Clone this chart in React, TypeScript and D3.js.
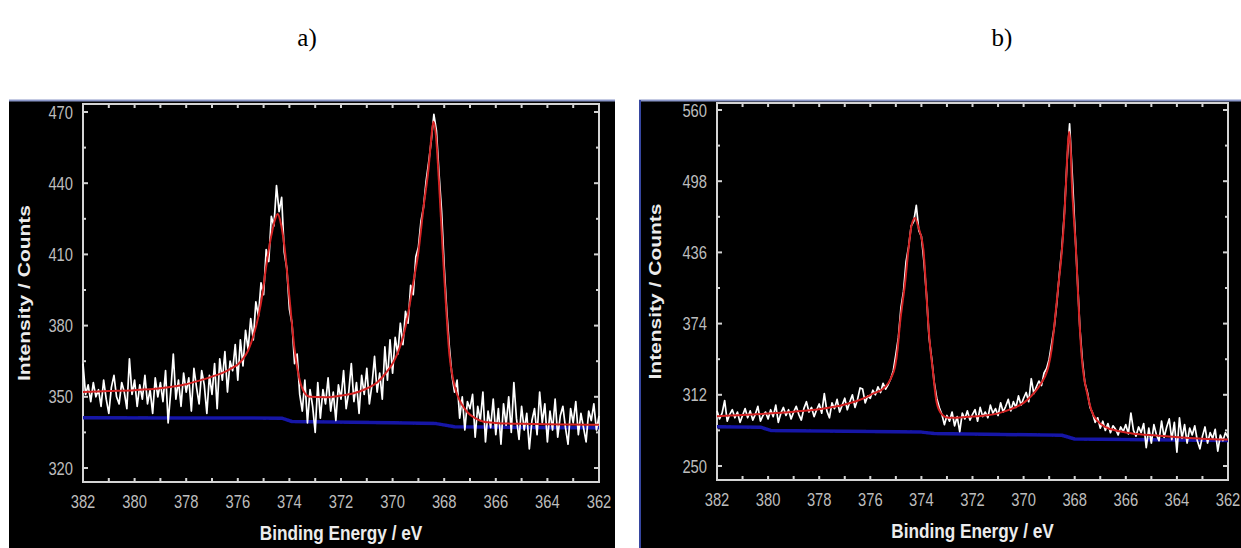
import React from "react";
import * as d3 from "d3";

// Spectra are sampled every 0.1 eV from 382.0 eV down to 362.0 eV.
const ENERGY_START = 382;
const ENERGY_STEP = 0.1;

// Panel a) measured counts
const countsA: number[] = [
  364, 351, 355, 348, 356, 350, 353, 346, 357, 349, // 382.0 – 381.1
  343, 354, 359, 350, 347, 356, 352, 345, 366, 351, // 381.0 – 380.1
  357, 346, 355, 349, 359, 347, 353, 343, 358, 350, // 380.0 – 379.1
  356, 348, 361, 339, 352, 368, 349, 357, 346, 360, // 379.0 – 378.1
  352, 358, 344, 362, 354, 347, 361, 355, 343, 359, // 378.0 – 377.1
  351, 364, 345, 366, 357, 369, 352, 365, 361, 372, // 377.0 – 376.1
  357, 374, 363, 378, 370, 383, 374, 390, 384, 398, // 376.0 – 375.1
  393, 412, 407, 426, 422, 439, 428, 434, 411, 404, // 375.0 – 374.1
  387, 381, 364, 368, 351, 344, 357, 339, 353, 346, // 374.0 – 373.1
  335, 356, 341, 353, 347, 358, 344, 352, 340, 355, // 373.0 – 372.1
  349, 361, 345, 352, 364, 348, 356, 343, 359, 351, // 372.0 – 371.1
  362, 347, 355, 367, 352, 360, 349, 371, 357, 374, // 371.0 – 370.1
  360, 375, 368, 381, 372, 386, 381, 397, 393, 409, // 370.0 – 369.1
  413, 424, 430, 441, 449, 458, 469, 462, 444, 428, // 369.0 – 368.1
  405, 386, 371, 359, 352, 357, 341, 350, 336, 348, // 368.0 – 367.1
  345, 351, 333, 346, 340, 352, 331, 344, 337, 349, // 367.0 – 366.1
  334, 345, 330, 347, 338, 350, 335, 356, 341, 332, // 366.0 – 365.1
  346, 336, 343, 328, 340, 345, 334, 352, 339, 347, // 365.0 – 364.1
  331, 344, 336, 349, 333, 342, 346, 337, 330, 345, // 364.0 – 363.1
  339, 348, 334, 343, 337, 331, 344, 340, 347, 336, // 363.0 – 362.1
  342, // 362.0
];

// Panel b) measured counts
const countsB: number[] = [
  298, 291, 296, 307, 289, 295, 299, 292, 297, 288, // 382.0 – 381.1
  294, 300, 292, 298, 290, 295, 302, 289, 294, 297, // 381.0 – 380.1
  291, 299, 293, 303, 288, 296, 301, 294, 299, 291, // 380.0 – 379.1
  297, 302, 295, 290, 300, 306, 297, 301, 293, 299, // 379.0 – 378.1
  304, 296, 313, 298, 292, 305, 300, 308, 297, 303, // 378.0 – 377.1
  309, 299, 306, 312, 301, 308, 318, 317, 305, 311, // 377.0 – 376.1
  309, 316, 312, 319, 314, 322, 317, 321, 326, 333, // 376.0 – 375.1
  347, 362, 388, 402, 428, 441, 459, 463, 477, 455, // 375.0 – 374.1
  450, 428, 399, 362, 344, 323, 309, 301, 295, 286, // 374.0 – 373.1
  294, 289, 297, 285, 293, 280, 296, 291, 298, 290, // 373.0 – 372.1
  295, 299, 289, 301, 293, 297, 292, 303, 296, 300, // 372.0 – 371.1
  294, 305, 297, 302, 308, 298, 306, 301, 311, 303, // 371.0 – 370.1
  309, 314, 306, 326, 313, 319, 324, 320, 331, 335, // 370.0 – 369.1
  343, 357, 371, 392, 417, 440, 472, 515, 548, 506, // 369.0 – 368.1
  460, 416, 371, 342, 322, 314, 301, 296, 288, 292, // 368.0 – 367.1
  283, 289, 281, 287, 279, 285, 282, 277, 284, 280, // 367.0 – 366.1
  286, 278, 296, 281, 276, 284, 279, 287, 266, 283, // 366.0 – 365.1
  270, 286, 277, 272, 289, 275, 284, 291, 273, 288, // 365.0 – 364.1
  262, 292, 274, 286, 270, 283, 277, 285, 272, 265, // 364.0 – 363.1
  276, 284, 270, 279, 274, 282, 263, 277, 272, 279, // 363.0 – 362.1
  275, // 362.0
];

// Fitted envelopes [binding energy, counts]
const fitA: [number, number][] = [
  [382, 352.0], [381, 352.4], [380, 352.8], [379, 353.6], [378, 355.3],
  [377.5, 356.8], [377, 358.5], [376.5, 360.5], [376.2, 362.3], [376, 363.6],
  [375.8, 366], [375.6, 369.5], [375.4, 375.5], [375.2, 384], [375.05, 393],
  [374.9, 405], [374.7, 418], [374.55, 425], [374.45, 427], [374.35, 424],
  [374.2, 414], [374.0, 392], [373.8, 370], [373.6, 357], [373.4, 351.5],
  [373.2, 350], [372.6, 349.8], [372, 350.5], [371.5, 351.5], [371, 353.5],
  [370.6, 356], [370.3, 359.5], [370, 364], [369.8, 368.5], [369.6, 375],
  [369.4, 385], [369.2, 398], [369.0, 411], [368.8, 430], [368.6, 447],
  [368.5, 459], [368.42, 466], [368.32, 460], [368.2, 440], [368.05, 410],
  [367.95, 392], [367.8, 368], [367.65, 357], [367.5, 351], [367.3, 346.5],
  [367.1, 343.5], [366.8, 341], [366.5, 339.6], [366, 339], [365, 338.6],
  [364, 338.4], [363, 338.3], [362, 338.2],
];

const fitB: [number, number][] = [
  [382, 293.3], [381, 294.5], [380, 295.7], [379, 297.3], [378, 299.5],
  [377, 303.5], [376.5, 306.8], [376.2, 309.5], [375.9, 313], [375.55, 316.4],
  [375.3, 322], [375.16, 328], [375.03, 336.5], [374.93, 352], [374.84, 374],
  [374.74, 392], [374.64, 409], [374.51, 438], [374.38, 460], [374.25, 466],
  [374.12, 458], [373.92, 438], [373.83, 409], [373.73, 374], [373.65, 352],
  [373.57, 336.5], [373.4, 305], [373.2, 295], [372.94, 292], [372.5, 292.3],
  [372, 293], [371.5, 294], [371, 295.8], [370.5, 299.5], [370, 305],
  [369.7, 311], [369.5, 316], [369.3, 322.5], [369.16, 328], [369.03, 336.5],
  [368.9, 352], [368.79, 374], [368.65, 405], [368.5, 438], [368.4, 470],
  [368.34, 496], [368.28, 525], [368.22, 541], [368.16, 527], [368.11, 496],
  [368.03, 465], [367.95, 438], [367.88, 405], [367.81, 374], [367.75, 352],
  [367.69, 336.5], [367.5, 312], [367.35, 298.7], [367.1, 289], [366.81, 284],
  [366.3, 280.5], [365.76, 278.4], [364.8, 276.5], [363.81, 274.9], [363, 273.8],
  [362, 273],
];

// Background lines [binding energy, counts]
const backgroundA: [number, number][] = [
  [382, 341.2], [378, 341.1], [374.3, 341.0], [373.9, 339.6], [370, 339.1],
  [368.3, 338.7], [367.6, 337.4], [365, 337.1], [362, 337.0],
];

const backgroundB: [number, number][] = [
  [382, 284.2], [380.3, 283.8], [379.9, 281], [374, 279.5], [373.5, 278.3],
  [368.5, 276.8], [368.0, 273.5], [365, 272.8], [362, 272.3],
];

const energyTicks = [382, 380, 378, 376, 374, 372, 370, 368, 366, 364, 362];
const countTicksA = [470, 440, 410, 380, 350, 320];
const countTicksB = [560, 498, 436, 374, 312, 250];

const SANS = "'Liberation Sans', Arial, Helvetica, sans-serif";
const SQUEEZE = 0.82;

type PanelProps = {
  label: string;
  labelX: number;
  frameX0: number;
  frameX1: number;
  left: number;
  right: number;
  top: number;
  bottom: number;
  yRange: [number, number]; // pixel positions of first and last count tick
  yTitleX: number;
  counts: number[];
  fit: [number, number][];
  background: [number, number][];
  yTicks: number[];
  leftBorder?: boolean;
};

function Panel(p: PanelProps) {
  const x = d3.scaleLinear().domain([382, 362]).range([p.left, p.right]);
  const y = d3
    .scaleLinear()
    .domain([p.yTicks[0], p.yTicks[p.yTicks.length - 1]])
    .range(p.yRange);

  const energyAt = (i: number) => +(ENERGY_START - i * ENERGY_STEP).toFixed(1);

  const dataLine = d3
    .line<number>()
    .x((_, i) => x(energyAt(i)))
    .y((d) => y(d));

  const smooth = d3
    .line<[number, number]>()
    .x((d) => x(d[0]))
    .y((d) => y(d[1]))
    .curve(d3.curveMonotoneX);

  const straight = d3
    .line<[number, number]>()
    .x((d) => x(d[0]))
    .y((d) => y(d[1]));

  const minorY = d3.pairs(p.yTicks).map(([a, b]) => (a + b) / 2);
  const eVTicks = d3.range(362, 383);
  const axisColor = "#d4d4d4";
  const cx = (p.left + p.right) / 2;
  const cy = (p.top + p.bottom) / 2;

  return (
    <g>
      <text
        x={p.labelX}
        y={46}
        textAnchor="middle"
        fontFamily="'Liberation Serif', 'Times New Roman', serif"
        fontSize={25}
        fill="#000"
      >
        {p.label}
      </text>

      <rect x={p.frameX0} y={100} width={p.frameX1 - p.frameX0} height={448} fill="#000" />
      <line x1={p.frameX0} x2={p.frameX1} y1={100.5} y2={100.5} stroke="#8a96c8" strokeWidth={2} />
      {p.leftBorder && (
        <line x1={p.frameX0 + 1} x2={p.frameX0 + 1} y1={100} y2={548} stroke="#3646a0" strokeWidth={2} />
      )}

      {/* plot frame */}
      <rect
        x={p.left}
        y={p.top}
        width={p.right - p.left}
        height={p.bottom - p.top}
        fill="none"
        stroke={axisColor}
        strokeWidth={2}
      />

      {/* energy ticks on bottom and top */}
      {eVTicks.map((e) => (
        <g key={"e" + e}>
          <line x1={x(e)} x2={x(e)} y1={p.bottom} y2={p.bottom - 4} stroke={axisColor} strokeWidth={2} />
          <line x1={x(e)} x2={x(e)} y1={p.top} y2={p.top + 4} stroke={axisColor} strokeWidth={2} />
        </g>
      ))}

      {/* count ticks on left and right */}
      {p.yTicks.map((v) => (
        <g key={"c" + v}>
          <line x1={p.left} x2={p.left + 5} y1={y(v)} y2={y(v)} stroke={axisColor} strokeWidth={2} />
          <line x1={p.right} x2={p.right - 5} y1={y(v)} y2={y(v)} stroke={axisColor} strokeWidth={2} />
        </g>
      ))}
      {minorY.map((v) => (
        <g key={"m" + v}>
          <line x1={p.left} x2={p.left + 3} y1={y(v)} y2={y(v)} stroke={axisColor} strokeWidth={2} />
          <line x1={p.right} x2={p.right - 3} y1={y(v)} y2={y(v)} stroke={axisColor} strokeWidth={2} />
        </g>
      ))}

      {/* spectra */}
      <g filter="url(#soft)" fill="none" strokeLinejoin="round">
        <path d={straight(p.background) || ""} stroke="#1414a6" strokeWidth={3.5} />
        <path d={dataLine(p.counts) || ""} stroke="#ffffff" strokeWidth={1.7} />
        <path d={smooth(p.fit) || ""} stroke="#d42222" strokeWidth={2} />
      </g>

      {/* tick labels */}
      {energyTicks.map((e) => (
        <text
          key={"el" + e}
          transform={`translate(${x(e)},${p.bottom + 26}) scale(${SQUEEZE},1)`}
          textAnchor="middle"
          fontFamily={SANS}
          fontSize={18}
          fill="#bdbdbd"
        >
          {e}
        </text>
      ))}
      {p.yTicks.map((v) => (
        <text
          key={"cl" + v}
          transform={`translate(${p.left - 10},${y(v)}) scale(${SQUEEZE},1)`}
          textAnchor="end"
          dominantBaseline="central"
          fontFamily={SANS}
          fontSize={18}
          fill="#bdbdbd"
        >
          {v}
        </text>
      ))}

      {/* axis titles */}
      <text
        transform={`translate(${cx},${p.bottom + 58}) scale(${SQUEEZE},1)`}
        textAnchor="middle"
        fontFamily={SANS}
        fontWeight="bold"
        fontSize={21}
        fill="#ececec"
      >
        Binding Energy / eV
      </text>
      <text
        transform={`translate(${p.yTitleX},${cy}) rotate(-90) scale(1,${SQUEEZE})`}
        textAnchor="middle"
        fontFamily={SANS}
        fontWeight="bold"
        fontSize={21}
        fill="#ececec"
      >
        Intensity / Counts
      </text>
    </g>
  );
}

export default function App() {
  return (
    <svg
      width={1241}
      height={548}
      viewBox="0 0 1241 548"
      style={{ position: "absolute", left: 0, top: 0, display: "block", background: "#fff" }}
    >
      <defs>
        <filter id="soft" x="-5%" y="-5%" width="110%" height="110%">
          <feGaussianBlur stdDeviation={0.5} />
        </filter>
      </defs>
      <rect x={0} y={0} width={1241} height={548} fill="#fff" />
      <Panel
        label="a)"
        labelX={307}
        frameX0={9}
        frameX1={615}
        left={83}
        right={599}
        top={104}
        bottom={482}
        yRange={[112, 468]}
        yTitleX={30}
        counts={countsA}
        fit={fitA}
        background={backgroundA}
        yTicks={countTicksA}
      />
      <Panel
        label="b)"
        labelX={1002}
        frameX0={639}
        frameX1={1241}
        left={717}
        right={1228}
        top={103}
        bottom={480}
        yRange={[110, 466]}
        yTitleX={661}
        counts={countsB}
        fit={fitB}
        background={backgroundB}
        yTicks={countTicksB}
        leftBorder
      />
    </svg>
  );
}
